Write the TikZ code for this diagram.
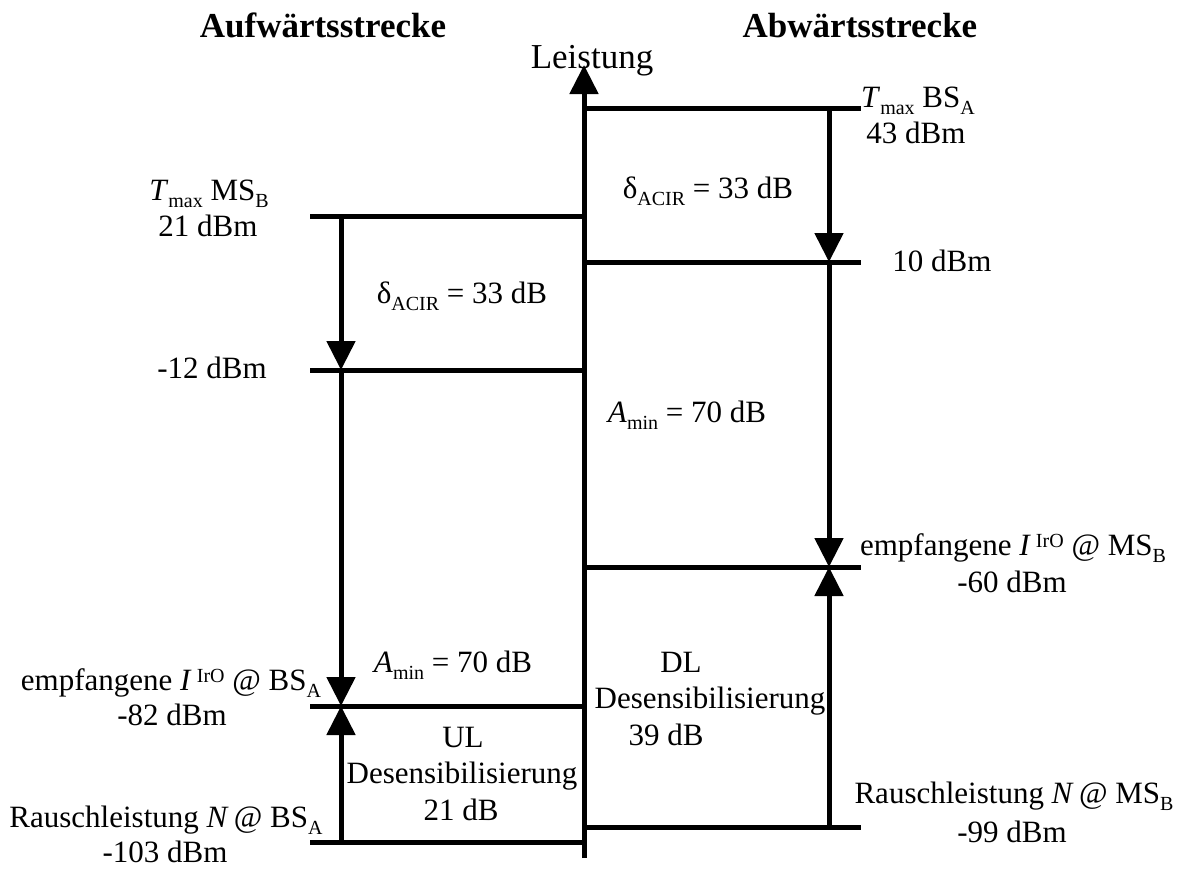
\documentclass[tikz,border=0pt]{standalone}
\usepackage{fontspec}
\setmainfont{Liberation Serif}
\usetikzlibrary{arrows.meta}

% lowered / raised small text for indices
\newcommand{\lo}[1]{\raisebox{-7pt}{\fontsize{20}{20}\selectfont #1}}
\newcommand{\hi}[1]{\raisebox{8pt}{\fontsize{20}{20}\selectfont #1}}

\begin{document}
\begin{tikzpicture}[x=1pt,y=-1pt,
  lbl/.style={font=\fontsize{31}{36}\selectfont, inner sep=0pt, anchor=base},
  ttl/.style={font=\fontsize{35}{40}\selectfont\bfseries, inner sep=0pt, anchor=base},
  bar/.style={line width=5pt},
  arr/.style={line width=5pt, -{Triangle[length=29pt 0 0, width=28pt 0 0]}},
]
\useasboundingbox (0,0) rectangle (1179,887);

% power axis
\coordinate (axbot) at (584,858);
\coordinate (axtop) at (584,65);

% downlink levels (right)
\coordinate (r1a) at (584,108); \coordinate (r1b) at (861,108); \coordinate (r1) at (829,108);
\coordinate (r2a) at (584,262); \coordinate (r2b) at (861,262); \coordinate (r2) at (829,262);
\coordinate (r3a) at (584,567); \coordinate (r3b) at (861,567); \coordinate (r3) at (829,567);
\coordinate (r4a) at (584,827); \coordinate (r4b) at (861,827); \coordinate (r4) at (829,827);

% uplink levels (left)
\coordinate (l1a) at (584,216); \coordinate (l1b) at (310,216); \coordinate (l1) at (341,216);
\coordinate (l2a) at (584,370); \coordinate (l2b) at (310,370); \coordinate (l2) at (341,370);
\coordinate (l3a) at (584,706); \coordinate (l3b) at (310,706); \coordinate (l3) at (341,706);
\coordinate (l4a) at (584,842); \coordinate (l4b) at (310,842); \coordinate (l4) at (341,842);

\foreach \p in {r1,r2,r3,r4,l1,l2,l3,l4} \draw[bar] (\p a) -- (\p b);

\draw[arr] (axbot) -- (axtop);

\draw[arr] (r1) -- (r2);
\draw[arr] (r2) -- (r3);
\draw[arr] (r4) -- (r3);

\draw[arr] (l1) -- (l2);
\draw[arr] (l2) -- (l3);
\draw[arr] (l4) -- (l3);

% headings
\node[ttl] (ul) at (323,37) {Aufwärtsstrecke};
\node[ttl] (dl) at (860,37) {Abwärtsstrecke};
\node[lbl, font=\fontsize{35}{40}\selectfont] (leist) at (592,68) {Leistung};

% uplink labels
\node[lbl] (tmsb) at (209,200) {\textit{T}\lo{max} MS\lo{B}};
\node[lbl] (p21) at (208,236) {21 dBm};
\node[lbl] (m12) at (212,378) {-12 dBm};
\node[lbl] (dacl) at (462,303) {δ\lo{ACIR} = 33 dB};
\node[lbl] (aminl) at (453,672) {\textit{A}\lo{min} = 70 dB};
\node[lbl] (irol) at (171,690) {empfangene \textit{I}\,\hi{IrO} @ BS\lo{A}};
\node[lbl] (m82) at (172,725) {-82 dBm};
\node[lbl] (nl) at (166,827) {Rauschleistung \textit{N}\,@ BS\lo{A}};
\node[lbl] (m103) at (165,862) {-103 dBm};
\node[lbl] (ul1) at (463,747) {UL};
\node[lbl] (ul2) at (462,783) {Desensibilisierung};
\node[lbl] (ul3) at (461,820) {21 dB};

% downlink labels
\node[lbl] (tbsa) at (918,107) {\textit{T}\lo{max} BS\lo{A}};
\node[lbl] (p43) at (916,143) {43 dBm};
\node[lbl] (dacr) at (708,198) {δ\lo{ACIR} = 33 dB};
\node[lbl] (p10) at (942,271) {10 dBm};
\node[lbl] (aminr) at (687,422) {\textit{A}\lo{min} = 70 dB};
\node[lbl] (iror) at (1013,555) {empfangene \textit{I}\,\hi{IrO} @ MS\lo{B}};
\node[lbl] (m60) at (1012,592) {-60 dBm};
\node[lbl] (dl1) at (681,672) {DL};
\node[lbl] (dl2) at (710,708) {Desensibilisierung};
\node[lbl] (dl3) at (666,745) {39 dB};
\node[lbl] (nr) at (1014,803) {Rauschleistung \textit{N}\,@ MS\lo{B}};
\node[lbl] (m99) at (1012,842) {-99 dBm};
\end{tikzpicture}
\end{document}
